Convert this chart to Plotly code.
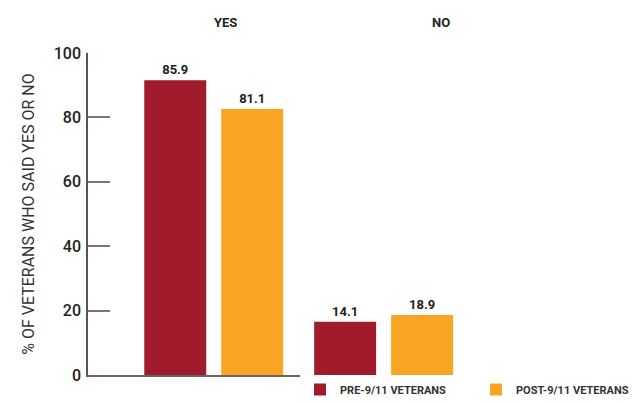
import plotly.graph_objects as go

categories = ["YES", "NO"]
series_names = ["PRE-9/11 VETERANS", "POST-9/11 VETERANS"]
# bar heights as drawn in the picture
pre_heights = [91.5, 16.5]
post_heights = [82.6, 18.6]
# value labels printed above the bars
pre_labels = ["85.9", "14.1"]
post_labels = ["81.1", "18.9"]
colors = ["#A01B2C", "#FAA424"]
y_ticks = [0, 20, 40, 60, 80, 100]

fig = go.Figure()
for name, h, lab, c in [(series_names[0], pre_heights, pre_labels, colors[0]),
                        (series_names[1], post_heights, post_labels, colors[1])]:
    fig.add_trace(go.Bar(
        x=categories, y=h, name=name, marker_color=c, marker_line_width=0,
        text=lab, textposition="outside", cliponaxis=False,
        textfont=dict(family="Roboto", size=13, color="#222222", weight=700),
    ))

L, R, T, B = 88, 6, 53, 29
W, H = 636, 404
pw, ph = W - L - R, H - T - B

fig.update_layout(
    width=W, height=H,
    margin=dict(l=L, r=R, t=T, b=B, autoexpand=False),
    paper_bgcolor="white", plot_bgcolor="white",
    barmode="group", bargap=0.094, bargroupgap=0.195,
    font=dict(family="Roboto", color="#222222"),
    showlegend=True,
    legend=dict(orientation="h", xref="container", yref="container",
                x=300 / W, xanchor="left", y=-2 / H, yanchor="bottom",
                entrywidth=131, entrywidthmode="pixels",
                font=dict(family="Roboto", size=11, color="#333333", weight=700),
                itemwidth=30, traceorder="normal", tracegroupgap=0),
    xaxis=dict(type="category", range=[-0.74, 2.45], showticklabels=False,
               ticks="", showgrid=False, zeroline=False, automargin=False,
               showline=True, linecolor="#666666", linewidth=1.5),
    yaxis=dict(range=[0, 100], tickvals=y_ticks, ticks="inside", ticklen=22,
               tickwidth=1.5, tickcolor="#777777", showgrid=False, zeroline=False,
               showline=True, linecolor="#555555", linewidth=1.5,
               ticklabelstandoff=2, automargin=False,
               tickfont=dict(family="Roboto", size=16, color="#222222", weight=500),
               title=dict(text="% OF VETERANS WHO SAID YES OR NO", standoff=15,
                          font=dict(family="Roboto", size=16, color="#333333"))),
    annotations=[
        dict(text=categories[0], x=(212 - L) / pw, y=1 + (T - 23) / ph,
             xref="paper", yref="paper", yanchor="middle", showarrow=False,
             font=dict(family="Roboto", size=13, color="#222222", weight=700)),
        dict(text=categories[1], x=(452 - L) / pw, y=1 + (T - 23) / ph,
             xref="paper", yref="paper", yanchor="middle", showarrow=False,
             font=dict(family="Roboto", size=13, color="#222222", weight=700)),
    ],
)

fig.write_html("out.html", config={"displayModeBar": False},
               post_script="document.body.style.margin='0';document.body.style.overflow='hidden';")
